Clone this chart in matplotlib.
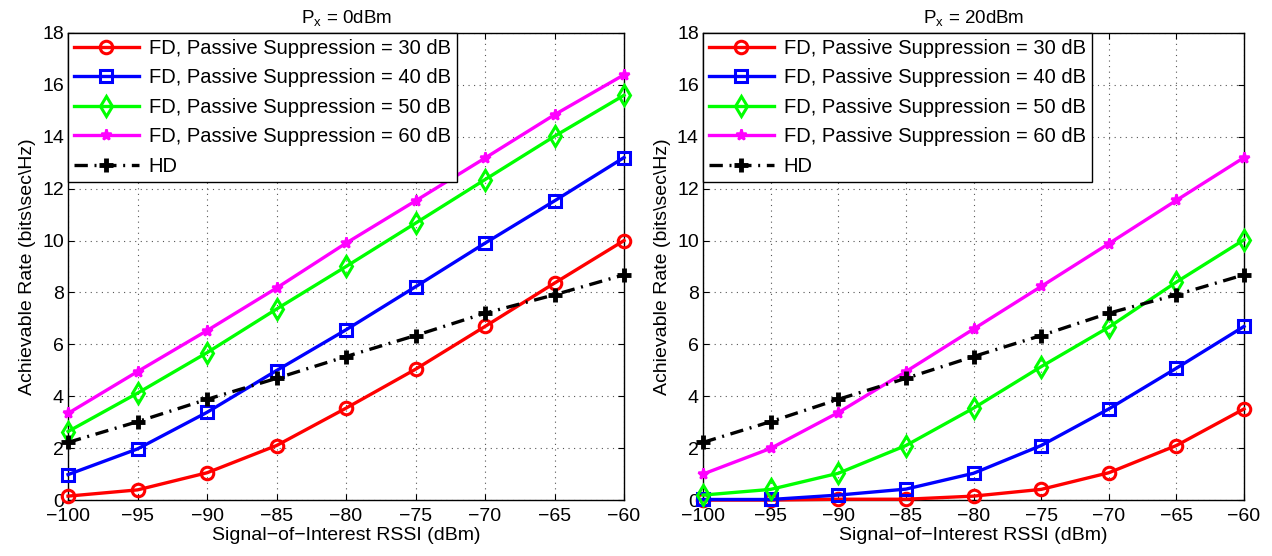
import matplotlib
matplotlib.use('Agg')
import matplotlib.pyplot as plt

plt.rcParams['font.family'] = ['Liberation Sans', 'DejaVu Sans']
plt.rcParams['mathtext.fontset'] = 'custom'
plt.rcParams['mathtext.rm'] = 'Liberation Sans'

# Signal-of-interest RSSI (dBm)
rssi = [-100, -95, -90, -85, -80, -75, -70, -65, -60]

# Px = 0 dBm
fd30_0 = [0.15, 0.39, 1.05, 2.10, 3.54, 5.04, 6.69, 8.36, 10.0]
fd40_0 = [0.98, 1.97, 3.38, 4.99, 6.56, 8.22, 9.90, 11.53, 13.2]
fd50_0 = [2.64, 4.12, 5.68, 7.36, 9.00, 10.67, 12.35, 14.02, 15.6]
fd60_0 = [3.34, 4.95, 6.53, 8.17, 9.90, 11.53, 13.18, 14.85, 16.39]

# Px = 20 dBm
fd30_20 = [0.0, 0.0, 0.03, 0.03, 0.15, 0.41, 1.05, 2.10, 3.51]
fd40_20 = [0.02, 0.02, 0.19, 0.42, 1.03, 2.10, 3.51, 5.08, 6.69]
fd50_20 = [0.19, 0.41, 1.03, 2.10, 3.54, 5.14, 6.66, 8.40, 10.03]
fd60_20 = [1.00, 1.99, 3.37, 4.95, 6.59, 8.23, 9.88, 11.55, 13.2]

# half duplex (same in both panels)
hd = [2.22, 3.02, 3.88, 4.69, 5.53, 6.34, 7.20, 7.91, 8.68]

titles = [r'P$_\mathregular{x}$ = 0dBm', r'P$_\mathregular{x}$ = 20dBm']
labels = ['FD, Passive Suppression = 30 dB', 'FD, Passive Suppression = 40 dB',
          'FD, Passive Suppression = 50 dB', 'FD, Passive Suppression = 60 dB', 'HD']

panels = [
    [fd30_0, fd40_0, fd50_0, fd60_0, hd],
    [fd30_20, fd40_20, fd50_20, fd60_20, hd],
]

styles = [
    dict(color='#ff0000', marker='o', ls='-', mfc='none', ms=9, mew=2.2),
    dict(color='#0000ff', marker='s', ls='-', mfc='none', ms=9, mew=2.2),
    dict(color='#00ff00', marker='d', ls='-', mfc='none', ms=10, mew=2.2),
    dict(color='#ff00ff', marker='*', ls='-', ms=8, mew=1.8),
    dict(color='black', marker='+', ls=(0, (4, 2, 0.6, 2)), ms=10, mew=3.5),
]

fig = plt.figure(figsize=(12.72, 5.56), dpi=100)
positions = [[0.0535, 0.1007, 0.4371, 0.840], [0.5527, 0.1007, 0.4253, 0.840]]

for pos, series, title in zip(positions, panels, titles):
    ax = fig.add_axes(pos)
    for ys, st, lab in zip(series, styles, labels):
        ax.plot(rssi, ys, linewidth=2.4, label=lab, clip_on=False, zorder=3, **st)
    ax.set_xlim(-100, -60)
    ax.set_ylim(0, 18)
    ax.set_xticks(rssi)
    ax.set_yticks(range(0, 19, 2))
    ax.grid(True, linestyle=(0, (1, 4)), color='#555555', linewidth=0.8)
    ax.tick_params(direction='in', top=True, right=True, labelsize=14, length=4)
    ax.tick_params(axis='x', pad=6)
    ax.tick_params(axis='y', pad=3)
    ax.set_title(title, fontsize=13.5, pad=7)
    ax.set_xlabel('Signal\u2212of\u2212Interest RSSI (dBm)', fontsize=14, labelpad=1)
    ax.set_ylabel('Achievable Rate (bits\\sec\\Hz)', fontsize=14, labelpad=4)
    leg = ax.legend(loc='upper left', fontsize=14.5, fancybox=False, framealpha=1,
                    edgecolor='black', borderaxespad=0, handlelength=3.2,
                    borderpad=0.3, labelspacing=0.52, handletextpad=0.5)
    leg.get_frame().set_linewidth(1.0)
    leg.set_zorder(5)
    for sp in ax.spines.values():
        sp.set_linewidth(1.0)

fig.savefig('out.png', dpi=100)
